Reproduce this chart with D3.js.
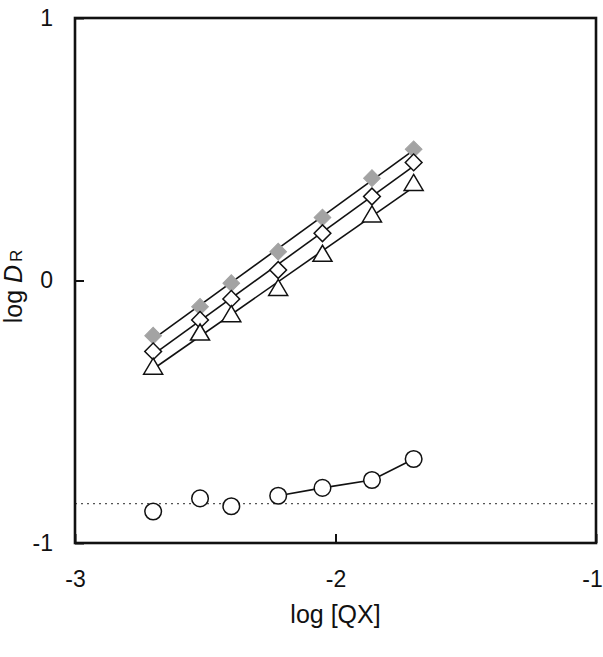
<!DOCTYPE html>
<html>
<head>
<meta charset="utf-8">
<script src="https://cdn.jsdelivr.net/npm/d3@7"></script>
<style>
  body { margin: 0; background: #fff; }
  text { font-family: "Liberation Sans", Arial, sans-serif; }
</style>
</head>
<body>
<div id="chart"></div>
<script>
// log [QX] values shared by all series
var logQX = [-2.70, -2.52, -2.40, -2.22, -2.05, -1.86, -1.70];

// log DR for each series
var grayDiamond = [-0.21, -0.10, -0.01, 0.11, 0.24, 0.39, 0.50];
var openDiamond = [-0.27, -0.15, -0.07, 0.04, 0.18, 0.32, 0.45];
var openTriangle = [-0.33, -0.20, -0.13, -0.03, 0.10, 0.25, 0.37];
var openCircle = [-0.88, -0.83, -0.86, -0.82, -0.79, -0.76, -0.68];

// dotted baseline level
var baseline = -0.85;

var xTicks = [-3, -2, -1];
var yTicks = [-1, 0, 1];

var svgWidth = 603;
var svgHeight = 657;
var margin = { top: 18, left: 75, right: 7, bottom: 114 };
var chartWidth = svgWidth - margin.left - margin.right;
var chartHeight = svgHeight - margin.top - margin.bottom;

var svg = d3.select("#chart")
  .append("svg")
  .attr("width", svgWidth)
  .attr("height", svgHeight);

var g = svg.append("g")
  .attr("transform", `translate(${margin.left}, ${margin.top})`);

var xScale = d3.scaleLinear().domain([-3, -1]).range([0, chartWidth]);
var yScale = d3.scaleLinear().domain([-1, 1]).range([chartHeight, 0]);

// dotted baseline
g.append("line")
  .attr("x1", 0).attr("x2", chartWidth)
  .attr("y1", yScale(baseline)).attr("y2", yScale(baseline))
  .attr("stroke", "#555")
  .attr("stroke-width", 1.3)
  .attr("stroke-dasharray", "2,4");

// least squares fit line over a series
function fitLine(xs, ys) {
  var n = xs.length;
  var mx = d3.mean(xs), my = d3.mean(ys);
  var sxy = 0, sxx = 0;
  for (var i = 0; i < n; i++) {
    sxy += (xs[i] - mx) * (ys[i] - my);
    sxx += (xs[i] - mx) * (xs[i] - mx);
  }
  var b = sxy / sxx;
  var a = my - b * mx;
  var x0 = d3.min(xs), x1 = d3.max(xs);
  return [[x0, a + b * x0], [x1, a + b * x1]];
}

var line = d3.line()
  .x(d => xScale(d[0]))
  .y(d => yScale(d[1]));

[grayDiamond, openDiamond, openTriangle].forEach(function(s) {
  g.append("path")
    .datum(fitLine(logQX, s))
    .attr("d", line)
    .attr("fill", "none")
    .attr("stroke", "#111")
    .attr("stroke-width", 1.6);
});

// circles: only the upper four points are joined
var circleJoined = logQX.slice(3).map((x, i) => [x, openCircle[i + 3]]);
g.append("path")
  .datum(circleJoined)
  .attr("d", line)
  .attr("fill", "none")
  .attr("stroke", "#111")
  .attr("stroke-width", 1.6);

function pts(s) {
  return logQX.map((x, i) => [x, s[i]]);
}

var diamond = d3.symbol().type(d3.symbolSquare).size(140);

g.selectAll(".gd")
  .data(pts(grayDiamond))
  .enter()
  .append("path")
  .attr("d", diamond)
  .attr("transform", d => `translate(${xScale(d[0])}, ${yScale(d[1])}) rotate(45)`)
  .attr("fill", "#a3a3a3")
  .attr("stroke", "#a3a3a3")
  .attr("stroke-width", 1);

g.selectAll(".od")
  .data(pts(openDiamond))
  .enter()
  .append("path")
  .attr("d", diamond)
  .attr("transform", d => `translate(${xScale(d[0])}, ${yScale(d[1])}) rotate(45)`)
  .attr("fill", "#fff")
  .attr("stroke", "#111")
  .attr("stroke-width", 1.5);

// open triangles
g.selectAll(".ot")
  .data(pts(openTriangle))
  .enter()
  .append("path")
  .attr("d", "M0,-9L9.5,7L-9.5,7Z")
  .attr("transform", d => `translate(${xScale(d[0])}, ${yScale(d[1])})`)
  .attr("fill", "#fff")
  .attr("stroke", "#111")
  .attr("stroke-width", 1.5);

g.selectAll(".oc")
  .data(pts(openCircle))
  .enter()
  .append("circle")
  .attr("cx", d => xScale(d[0]))
  .attr("cy", d => yScale(d[1]))
  .attr("r", 8.3)
  .attr("fill", "#fff")
  .attr("stroke", "#111")
  .attr("stroke-width", 1.5);

// plain hyphen minus, as in the figure
var fmt = d => String(d);

// axes with inward ticks
var xAxis = d3.axisBottom(xScale).tickValues(xTicks).tickSize(-9).tickPadding(22).tickFormat(fmt);
var yAxis = d3.axisLeft(yScale).tickValues(yTicks).tickSize(-9).tickPadding(22).tickFormat(fmt);

var gx = g.append("g")
  .attr("transform", `translate(0, ${chartHeight})`)
  .call(xAxis);
var gy = g.append("g").call(yAxis);

[gx, gy].forEach(function(a) {
  a.select(".domain").remove();
  a.selectAll("line").attr("stroke", "#111").attr("stroke-width", 2);
  a.selectAll("text")
    .attr("font-size", "23px")
    .attr("fill", "#111")
    .style("font-family", "Liberation Sans, Arial, sans-serif");
});
gx.selectAll("text").attr("dy", "0.95em");
// keep the last x label inside the page edge
gx.selectAll(".tick").filter(d => d === -1).select("text").attr("x", -4);

// frame
g.append("rect")
  .attr("width", chartWidth)
  .attr("height", chartHeight)
  .attr("fill", "none")
  .attr("stroke", "#111")
  .attr("stroke-width", 2.6);

// axis titles
g.append("text")
  .attr("x", chartWidth / 2)
  .attr("y", chartHeight + 80)
  .attr("text-anchor", "middle")
  .attr("font-size", "25px")
  .attr("fill", "#111")
  .text("log [QX]");

var yl = g.append("text")
  .attr("transform", `translate(-53, ${chartHeight / 2 + 6}) rotate(-90)`)
  .attr("text-anchor", "middle")
  .attr("font-size", "25px")
  .attr("fill", "#111");
yl.append("tspan").text("log ");
yl.append("tspan").attr("font-style", "italic").text("D");
yl.append("tspan").attr("font-size", "17px").attr("dx", "3").text("R");
</script>
</body>
</html>
